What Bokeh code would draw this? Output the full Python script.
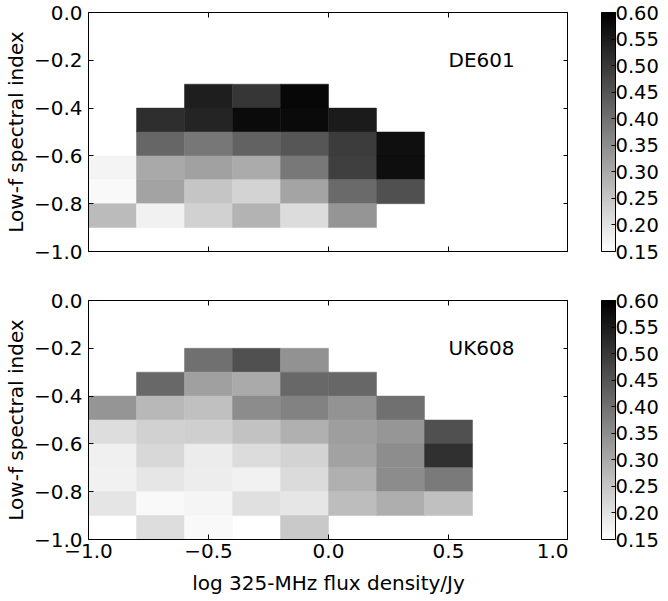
from bokeh.plotting import figure
from bokeh.models import (ColumnDataSource, LinearColorMapper, ColorBar, FixedTicker,
                          PrintfTickFormatter, LinearAxis, Range1d, Label,
                          CustomJSTickFormatter, CustomLabelingPolicy)
from bokeh.layouts import column, row
from bokeh.embed import file_html
from bokeh.resources import INLINE

# ---- data ----
x_centers = [-0.9, -0.7, -0.5, -0.3, -0.1, 0.1, 0.3, 0.5]
cell_w = 0.2
cell_h = 0.1

de601_y = [-0.35, -0.45, -0.55, -0.65, -0.75, -0.85]
de601_vals = [
    [None, None, 0.547, 0.505, 0.586, None, None, None],
    [None, 0.519, 0.535, 0.579, 0.582, 0.551, None, None],
    [None, 0.420, 0.390, 0.427, 0.448, 0.494, 0.572, None],
    [0.171, 0.302, 0.316, 0.298, 0.388, 0.489, 0.574, None],
    [0.162, 0.312, 0.252, 0.228, 0.311, 0.413, 0.459, None],
    [0.270, 0.175, 0.231, 0.284, 0.212, 0.337, None, None],
]

uk608_y = [-0.25, -0.35, -0.45, -0.55, -0.65, -0.75, -0.85, -0.95]
uk608_vals = [
    [None, None, 0.402, 0.459, 0.342, None, None, None],
    [None, 0.416, 0.318, 0.300, 0.416, 0.418, None, None],
    [0.337, 0.275, 0.261, 0.353, 0.371, 0.341, 0.402, None],
    [0.210, 0.231, 0.235, 0.258, 0.289, 0.321, 0.335, 0.459],
    [0.178, 0.219, 0.185, 0.212, 0.228, 0.314, 0.351, 0.515],
    [0.176, 0.194, 0.183, 0.176, 0.215, 0.289, 0.353, 0.385],
    [0.196, 0.162, 0.169, 0.205, 0.194, 0.267, 0.293, 0.261],
    [None, 0.210, 0.162, None, 0.245, None, None, None],
]

x_ticks = [-1.0, -0.5, 0.0, 0.5, 1.0]
y_ticks = [0.0, -0.2, -0.4, -0.6, -0.8, -1.0]
cbar_ticks = [0.15, 0.20, 0.25, 0.30, 0.35, 0.40, 0.45, 0.50, 0.55, 0.60]
vmin, vmax = 0.15, 0.60

FONT = "DejaVu Sans"
FS = "20px"

palette = ["#%02x%02x%02x" % (g, g, g) for g in range(255, -1, -1)]
mapper = LinearColorMapper(palette=palette, low=vmin, high=vmax)

fmt = CustomJSTickFormatter(code="""
const s = Math.abs(tick).toFixed(1);
return (tick < -1e-9 ? "\\u2212" : "") + s;
""")

HIDE_CODE = """
try {
  const all = Array.from(indices);
  for (const i of all) indices.unset(i);
} catch (e) {}
return indices;
"""

FRAME_H = 239


def style_axis(ax, show_labels):
    ax.major_tick_in = 5
    ax.major_tick_out = 0
    ax.minor_tick_line_color = None
    ax.axis_line_color = "black"
    ax.major_tick_line_color = "black"
    ax.major_label_text_font = FONT
    ax.major_label_text_color = "black"
    ax.axis_label_text_font = FONT
    ax.axis_label_text_font_size = FS
    ax.axis_label_text_font_style = "normal"
    ax.axis_label_text_color = "black"
    if show_labels:
        ax.major_label_text_font_size = FS
    else:
        ax.major_label_text_font_size = "0px"
        ax.major_label_standoff = 0
        ax.major_label_policy = CustomLabelingPolicy(code=HIDE_CODE)


def make_panel(ycs, vals, name, bottom):
    xs, ys, vs = [], [], []
    for yc, r in zip(ycs, vals):
        for xc, v in zip(x_centers, r):
            if v is not None:
                xs.append(xc)
                ys.append(yc)
                vs.append(v)
    src = ColumnDataSource(dict(x=xs, y=ys, v=vs))
    top_b = 24 if bottom else 12
    bot_b = 58 if bottom else 25
    p = figure(frame_width=480, frame_height=FRAME_H,
               x_range=Range1d(-1, 1), y_range=Range1d(-1, 0),
               output_backend="svg", toolbar_location=None,
               min_border_left=81, min_border_right=0,
               min_border_top=top_b, min_border_bottom=bot_b,
               x_axis_location=None, y_axis_location=None)
    p.grid.visible = False
    p.outline_line_color = "black"
    p.outline_line_alpha = 1
    p.background_fill_color = "white"
    p.border_fill_color = "white"
    p.rect(x="x", y="y", width=cell_w, height=cell_h, source=src,
           fill_color={"field": "v", "transform": mapper},
           line_color={"field": "v", "transform": mapper}, line_width=0.5)

    xb = LinearAxis(ticker=FixedTicker(ticks=x_ticks), formatter=fmt)
    style_axis(xb, bottom)
    if bottom:
        xb.axis_label = "log 325-MHz flux density/Jy"
        xb.major_label_standoff = 4
        xb.axis_label_standoff = 10
    p.add_layout(xb, "below")
    xt = LinearAxis(ticker=FixedTicker(ticks=x_ticks), formatter=fmt)
    style_axis(xt, False)
    p.add_layout(xt, "above")

    yl = LinearAxis(ticker=FixedTicker(ticks=y_ticks), formatter=fmt,
                    axis_label="Low-f spectral index")
    style_axis(yl, True)
    yl.major_label_standoff = 6
    yl.axis_label_standoff = 3
    p.add_layout(yl, "left")
    yr = LinearAxis(ticker=FixedTicker(ticks=y_ticks), formatter=fmt)
    style_axis(yr, False)
    p.add_layout(yr, "right")

    p.add_layout(Label(x=0.5, y=-0.2, text=name, text_font=FONT,
                       text_font_size=FS, text_color="black",
                       text_align="left", text_baseline="alphabetic"))

    # narrow companion figure that carries the colour bar
    c = figure(frame_width=1, frame_height=FRAME_H,
               x_range=Range1d(0, 1), y_range=Range1d(vmin, vmax),
               output_backend="svg", toolbar_location=None,
               min_border_left=32, min_border_right=0,
               min_border_top=top_b, min_border_bottom=bot_b,
               x_axis_location=None, y_axis_location=None)
    c.grid.visible = False
    c.outline_line_color = None
    c.background_fill_color = "white"
    c.border_fill_color = "white"
    cb = ColorBar(color_mapper=mapper, ticker=FixedTicker(ticks=cbar_ticks),
                  formatter=PrintfTickFormatter(format="%.2f"),
                  width=14, height=FRAME_H, padding=0, margin=0,
                  major_tick_in=4, major_tick_out=0,
                  major_tick_line_color="black", minor_tick_line_color=None,
                  bar_line_color="black", border_line_color=None,
                  label_standoff=0,
                  major_label_text_font=FONT, major_label_text_font_size="19.5px",
                  major_label_text_color="black")
    c.add_layout(cb, "right")
    return row(p, c, spacing=0)


r1 = make_panel(de601_y, de601_vals, "DE601", False)
r2 = make_panel(uk608_y, uk608_vals, "UK608", True)
layout = column(r1, r2, spacing=0)

open("out.html", "w").write(file_html(layout, INLINE))
